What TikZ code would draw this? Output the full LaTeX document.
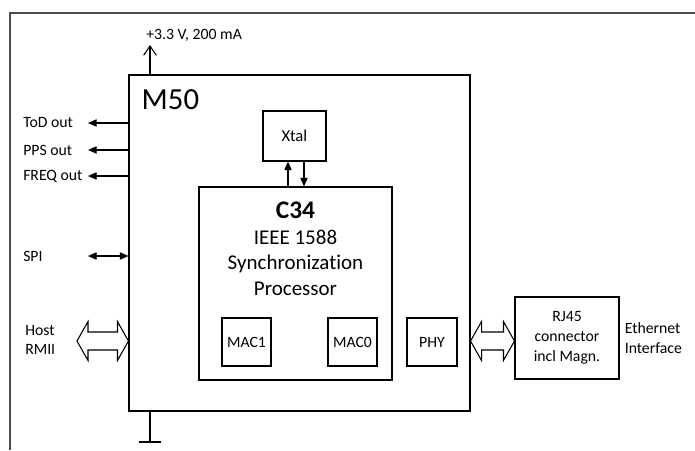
\documentclass[tikz,border=0pt]{standalone}
\usepackage{fontspec}
\setmainfont{Carlito}[Ligatures=NoCommon]
\usetikzlibrary{arrows.meta,positioning,calc}
\tikzset{
  box/.style={draw,line width=0.8pt,inner sep=0pt,align=center,font=\fontsize{11.8}{15}\selectfont},
  lbl/.style={inner sep=0pt,anchor=west,align=left,font=\fontsize{11.8}{14.6}\selectfont},
  sig/.style={line width=0.8pt,-{Triangle[length=6.5pt,width=5.5pt]}},
  blockarr/.style={draw,line width=0.8pt,fill=white,line join=miter}
}
% hollow two-headed block arrow between two points
\newcommand{\dblarrow}[2]{%
\draw[blockarr] let \p1=(#1), \p2=(#2) in
  (\p1) -- (\x1+8.25pt,\y1+14.6pt) -- (\x1+8.25pt,\y1+6.75pt)
  -- (\x2-8.25pt,\y1+6.75pt) -- (\x2-8.25pt,\y1+14.6pt) -- (\x2,\y1)
  -- (\x2-8.25pt,\y1-14.6pt) -- (\x2-8.25pt,\y1-6.75pt)
  -- (\x1+8.25pt,\y1-6.75pt) -- (\x1+8.25pt,\y1-14.6pt) -- cycle;}
\begin{document}
\begin{tikzpicture}[x=0.75pt,y=-0.75pt]
\useasboundingbox (0,0) rectangle (695,450);
\draw[line width=1.2pt,black!70] (10,450) -- (10,13) -- (695,13); % frame
% blocks
\node[box,minimum width=255.75pt,minimum height=252pt] (m50) at (299.5,243) {};
\node[anchor=base west,inner sep=0pt,font=\fontsize{23}{27}\selectfont] (m50lbl) at ($(m50.north west)+(13,35)$) {M50};
\node[box,minimum width=47.25pt,minimum height=37.5pt,font=\fontsize{12.5}{15}\selectfont] (xtal) at (294.5,136) {Xtal};
\node[box,minimum width=144.75pt,minimum height=144.75pt] (c34) at (295.5,283.5) {};
\node[inner sep=0pt,anchor=north,align=center,below=11.25pt of c34.north,
  font=\fontsize{15.75}{19.3}\selectfont] (c34lbl)
  {{\bfseries\fontsize{19}{19.3}\selectfont C34}\\IEEE 1588\\Synchronization\\Processor};
\node[box,minimum width=36.75pt,minimum height=36pt] (mac1) at (246.5,342) {MAC1};
\node[box,minimum width=36.75pt,minimum height=36pt] (mac0) at (352.5,342) {MAC0};
\node[box,minimum width=37.5pt,minimum height=36pt] (phy) at (432,342) {PHY};
\node[box,minimum width=78pt,minimum height=61.5pt] (rj45) at (567,338) {RJ45\\connector\\incl Magn.};
\node[lbl,right=3.75pt of rj45] (eth) {Ethernet\\Interface};
% xtal clock lines
\coordinate (xup) at (288,0);
\coordinate (xdn) at (304,0);
\draw[sig] (c34.north -| xup) -- (xtal.south -| xup);
\draw[sig] (xtal.south -| xdn) -- (c34.north -| xdn);
% power and ground
\coordinate (pwr) at (150,45);
\draw[line width=0.8pt,-{Straight Barb[length=7pt,width=9.5pt]}] (m50.north -| pwr) -- (pwr);
\node[lbl] (pwrlbl) at (146,35) {+3.3 V, 200 mA};
\coordinate (gnd) at (150,442);
\draw[line width=0.8pt] (m50.south -| gnd) -- (gnd);
\draw[line width=0.8pt] ([xshift=-7.9pt]gnd) -- ([xshift=7.9pt]gnd);
% outputs on the left
\foreach \y/\txt in {123/ToD out,150/PPS out,176/FREQ out}{
\coordinate (out\y) at (88,\y);
\draw[sig] (m50.west |- out\y) -- (out\y);
\node[lbl] (lbl\y) at (23,\y) {\txt};}
\coordinate (spi) at (88,256);
\draw[line width=0.8pt,{Triangle[length=6.5pt,width=5.5pt]}-{Triangle[length=6.5pt,width=5.5pt]}] (spi) -- (m50.west |- spi);
\node[lbl] (spilbl) at (23,256) {SPI};
% RMII and ethernet buses
\coordinate (rmii) at (77,341);
\dblarrow{rmii}{m50.west |- rmii}
\node[lbl] (host) at (25,340) {Host\\RMII};
\coordinate (eth0) at (470,341);
\dblarrow{m50.east |- eth0}{rj45.west |- eth0}
\end{tikzpicture}
\end{document}
